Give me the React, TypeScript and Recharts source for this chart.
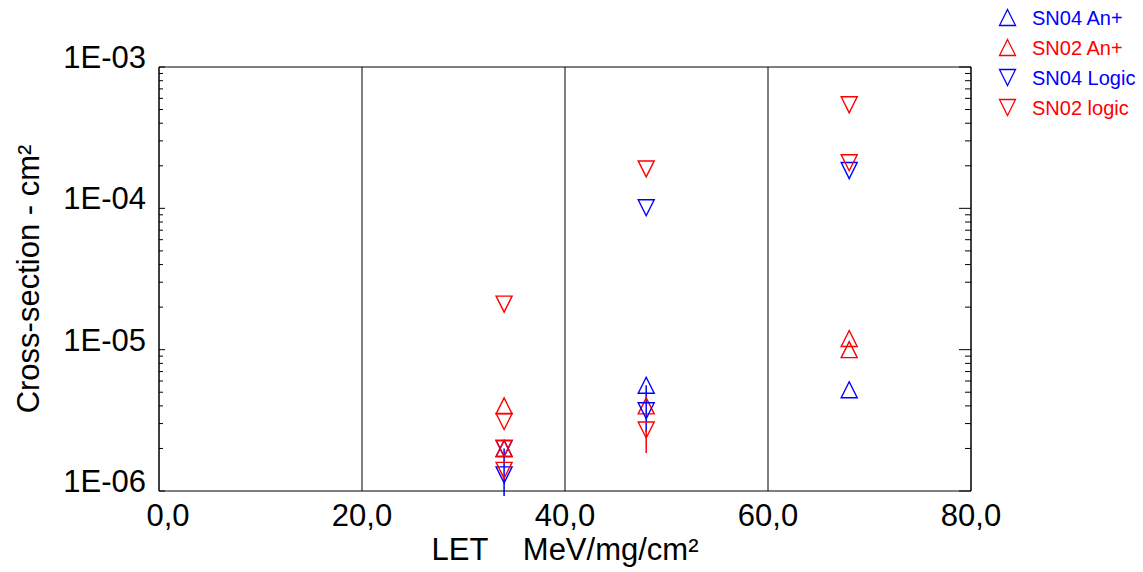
import React from "react";
import {
  ScatterChart,
  Scatter,
  XAxis,
  YAxis,
  CartesianGrid,
  ErrorBar,
  Legend,
  Label,
} from "recharts";

const BLUE = "#0000ff";
const RED = "#ff0000";
const FONT = "'Liberation Sans', Arial, sans-serif";

const xTicks = [0, 20, 40, 60, 80];
const yDecades = [1e-6, 1e-5, 1e-4, 1e-3];
const yMinorSteps = [2, 3, 4, 5, 6, 7, 8, 9];

// err = [below, above] in cm²
const sn04AnPlus = [
  { x: 34, y: 2.0e-6 },
  { x: 48, y: 5.6e-6, err: [3.0e-6, 0] },
  { x: 68, y: 5.2e-6 },
];
const sn02AnPlus = [
  { x: 34, y: 4.0e-6 },
  { x: 34, y: 2.0e-6 },
  { x: 48, y: 4.0e-6 },
  { x: 68, y: 1.2e-5 },
  { x: 68, y: 1.0e-5 },
];
const sn04Logic = [
  { x: 34, y: 2.0e-6 },
  { x: 34, y: 1.3e-6, err: [0.38e-6, 0.7e-6] },
  { x: 48, y: 1.01e-4 },
  { x: 48, y: 3.7e-6 },
  { x: 68, y: 1.85e-4 },
];
const sn02Logic = [
  { x: 34, y: 2.1e-5 },
  { x: 34, y: 3.1e-6 },
  { x: 34, y: 2.0e-6 },
  { x: 34, y: 1.4e-6 },
  { x: 48, y: 1.9e-4 },
  { x: 48, y: 2.7e-6, err: [0.84e-6, 0] },
  { x: 68, y: 5.4e-4 },
  { x: 68, y: 2.1e-4 },
];

const legendItems = [
  { name: "SN04 An+", color: BLUE, up: true },
  { name: "SN02 An+", color: RED, up: true },
  { name: "SN04 Logic", color: BLUE, up: false },
  { name: "SN02 logic", color: RED, up: false },
];

const yTicks = [
  ...yDecades,
  ...yDecades.slice(0, -1).flatMap((d) => yMinorSteps.map((m) => m * d)),
].sort((a, b) => a - b);

const isDecade = (v: number) => {
  const l = Math.log10(v);
  return Math.abs(l - Math.round(l)) < 1e-6;
};
const fmtExp = (v: number) => {
  const e = Math.round(Math.log10(v));
  return `1E-${String(-e).padStart(2, "0")}`;
};

const triPath = (cx: number, cy: number, up: boolean, h = 8) =>
  up
    ? `M${cx},${cy - h}L${cx + h},${cy + h}L${cx - h},${cy + h}Z`
    : `M${cx - h},${cy - h}L${cx + h},${cy - h}L${cx},${cy + h}Z`;

const marker = (color: string, up: boolean) => (p: any) =>
  (
    <path
      d={triPath(p.cx, p.cy, up)}
      fill="none"
      stroke={color}
      strokeWidth={1.4}
    />
  );

const LeftTick = (props: any) => {
  const { x, y, payload } = props;
  const major = isDecade(payload.value);
  const ax = x + 13;
  return (
    <g>
      <line x1={ax} x2={ax + (major ? 6 : 4)} y1={y} y2={y} stroke="#000" />
      {major && (
        <text x={x} y={y + 1} textAnchor="end" fontSize={31} fontFamily={FONT} fill="#000">
          {fmtExp(payload.value)}
        </text>
      )}
    </g>
  );
};

const RightTick = (props: any) => {
  const { x, y, payload } = props;
  const major = isDecade(payload.value);
  return <line x1={x} x2={x - (major ? 12 : 6)} y1={y} y2={y} stroke="#000" />;
};

const BottomTick = (props: any) => {
  const { x, y, payload } = props;
  const shift = payload.value === 0 ? 9 : 0;
  return (
    <text x={x + shift} y={y + 22} textAnchor="middle" fontSize={31} fontFamily={FONT} fill="#000">
      {payload.value.toFixed(1).replace(".", ",")}
    </text>
  );
};

const LegendBox = () => (
  <svg width={150} height={125}>
    {legendItems.map((it, i) => {
      const cy = 17.5 + i * 30;
      return (
        <g key={it.name}>
          <path d={triPath(17.5, cy, it.up, 8)} fill="none" stroke={it.color} strokeWidth={1.3} />
          <text x={42} y={cy + 7} fontSize={20} fontFamily={FONT} fill={it.color}>
            {it.name}
          </text>
        </g>
      );
    })}
  </svg>
);

const YTitle = (props: any) => {
  const vb = props.viewBox;
  const x = vb.x + 15;
  const y = vb.y + vb.height / 2;
  return (
    <text
      x={x}
      y={y}
      transform={`rotate(-90, ${x}, ${y})`}
      textAnchor="middle"
      fontSize={31}
      fontFamily={FONT}
      fill="#000"
    >
      Cross-section - cm²
    </text>
  );
};

export default function App() {
  return (
    <div style={{ position: "absolute", left: 0, top: 0, background: "#fff" }}>
      <ScatterChart
        width={1143}
        height={572}
        margin={{ top: 66, right: 162, bottom: 41, left: 24 }}
      >
        <CartesianGrid horizontal={false} stroke="#000" />
        <XAxis
          type="number"
          dataKey="x"
          domain={[0, 80]}
          ticks={xTicks}
          interval={0}
          height={40}
          tickSize={0}
          tickMargin={13}
          tick={<BottomTick />}
          axisLine={{ stroke: "#000" }}
        >
          <Label
            value={"LET\u00a0\u00a0\u00a0\u00a0MeV/mg/cm²"}
            position="bottom"
            offset={7}
            style={{ fontSize: 31, fontFamily: FONT, fill: "#000" }}
          />
        </XAxis>
        <XAxis
          xAxisId="top"
          orientation="top"
          type="number"
          domain={[0, 80]}
          height={1}
          tick={false}
          tickLine={false}
          axisLine={{ stroke: "#000" }}
        />
        <YAxis
          type="number"
          dataKey="y"
          scale="log"
          domain={[1e-6, 1e-3]}
          allowDataOverflow
          ticks={yTicks}
          interval={0}
          width={135}
          tickSize={0}
          tickMargin={13}
          tick={<LeftTick />}
          axisLine={{ stroke: "#000" }}
        >
          <Label content={<YTitle />} />
        </YAxis>
        <YAxis
          yAxisId="right"
          orientation="right"
          type="number"
          scale="log"
          domain={[1e-6, 1e-3]}
          allowDataOverflow
          ticks={yTicks}
          interval={0}
          width={10}
          tickSize={0}
          tickMargin={0}
          tick={<RightTick />}
          axisLine={{ stroke: "#000" }}
        />
        <Legend
          layout="vertical"
          align="center"
          verticalAlign="middle"
          wrapperStyle={{ left: 990, top: 0, width: 150 }}
          content={<LegendBox />}
        />
        <Scatter name="SN04 An+" data={sn04AnPlus} shape={marker(BLUE, true)} isAnimationActive={false}>
          <ErrorBar dataKey="err" direction="y" width={0} stroke={BLUE} strokeWidth={1.5} isAnimationActive={false} />
        </Scatter>
        <Scatter name="SN02 An+" data={sn02AnPlus} shape={marker(RED, true)} isAnimationActive={false} />
        <Scatter name="SN04 Logic" data={sn04Logic} shape={marker(BLUE, false)} isAnimationActive={false}>
          <ErrorBar dataKey="err" direction="y" width={0} stroke={BLUE} strokeWidth={1.5} isAnimationActive={false} />
        </Scatter>
        <Scatter name="SN02 logic" data={sn02Logic} shape={marker(RED, false)} isAnimationActive={false}>
          <ErrorBar dataKey="err" direction="y" width={0} stroke={RED} strokeWidth={1.5} isAnimationActive={false} />
        </Scatter>
      </ScatterChart>
    </div>
  );
}
